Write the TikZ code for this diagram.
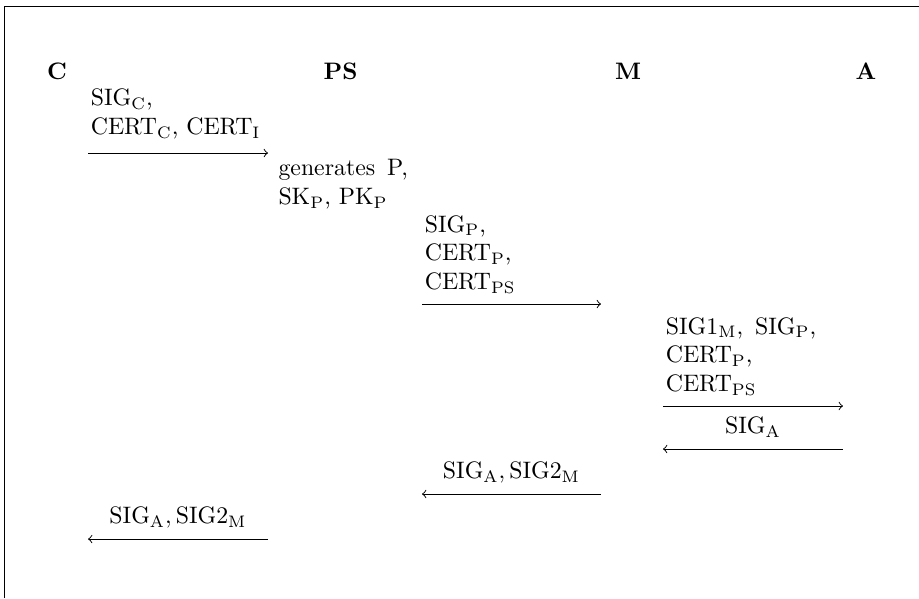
\documentclass[tikz,border=0pt]{standalone}
\usepackage{amsmath}
\usetikzlibrary{arrows, positioning}
\tikzset{
  party/.style={font=\bfseries, anchor=base, inner sep=0pt},
  msgline/.style={->, thin},
  fwdlabel/.style={anchor=south west, align=left, text depth=0pt, inner xsep=1pt, inner ysep=5.9pt},
  backlabel/.style={anchor=south, text depth=0pt, inner xsep=0pt, inner ysep=6.2pt},
  note/.style={anchor=south west, align=left, text depth=0pt, inner xsep=1pt, inner ysep=0pt},
}
\newcommand{\tok}[2]{\ensuremath{\mathrm{#1}_{\mathrm{#2}}}}

\begin{document}
\begin{tikzpicture}
\useasboundingbox (-0.059,-8.739) rectangle (13.506,0.089);
\draw (0,-8.739) -- (0,0) -- (13.506,0);

% participants
\node[party] (C)  at (0.782,-1.078)  {C};
\node[party] (PS) at (4.967,-1.078)  {PS};
\node[party] (M)  at (9.211,-1.078)  {M};
\node[party] (A)  at (12.724,-1.078) {A};

% end points of the messages
\coordinate (c1) at (1.240,-2.170);  \coordinate (p1) at (3.897,-2.170);
\coordinate (p2) at (6.170,-4.399);  \coordinate (m2) at (8.812,-4.399);
\coordinate (m3) at (9.727,-5.904);  \coordinate (a3) at (12.384,-5.904);
\coordinate (a4) at (12.384,-6.539); \coordinate (m4) at (9.727,-6.539);
\coordinate (m5) at (8.812,-7.203);  \coordinate (p5) at (6.170,-7.203);
\coordinate (p6) at (3.897,-7.868);  \coordinate (c6) at (1.240,-7.868);

\draw[msgline] (c1) -- (p1) node[pos=0, fwdlabel, yshift=1.7pt] (l1)
  {\tok{SIG}{C},\\ \tok{CERT}{C}, \tok{CERT}{I}};
\node[note] (gen) at (4.010,-2.937) {generates\hspace{5pt}P,\\ \tok{SK}{P}, \tok{PK}{P}};
\draw[msgline] (p2) -- (m2) node[pos=0, fwdlabel] (l2)
  {\tok{SIG}{P},\\ \tok{CERT}{P},\\ \tok{CERT}{PS}};
\draw[msgline] (m3) -- (a3) node[pos=0, fwdlabel] (l3)
  {\tok{SIG1}{M},\hspace{5pt}\tok{SIG}{P},\\ \tok{CERT}{P},\\ \tok{CERT}{PS}};
\draw[msgline] (a4) -- node[backlabel] (l4) {$\mathrm{SIG}_\mathrm{A}$} (m4);
\draw[msgline] (m5) -- node[backlabel] (l5) {$\mathrm{SIG}_\mathrm{A},\mathrm{SIG2}_\mathrm{M}$} (p5);
\draw[msgline] (p6) -- node[backlabel] (l6) {$\mathrm{SIG}_\mathrm{A},\mathrm{SIG2}_\mathrm{M}$} (c6);
\end{tikzpicture}
\end{document}
